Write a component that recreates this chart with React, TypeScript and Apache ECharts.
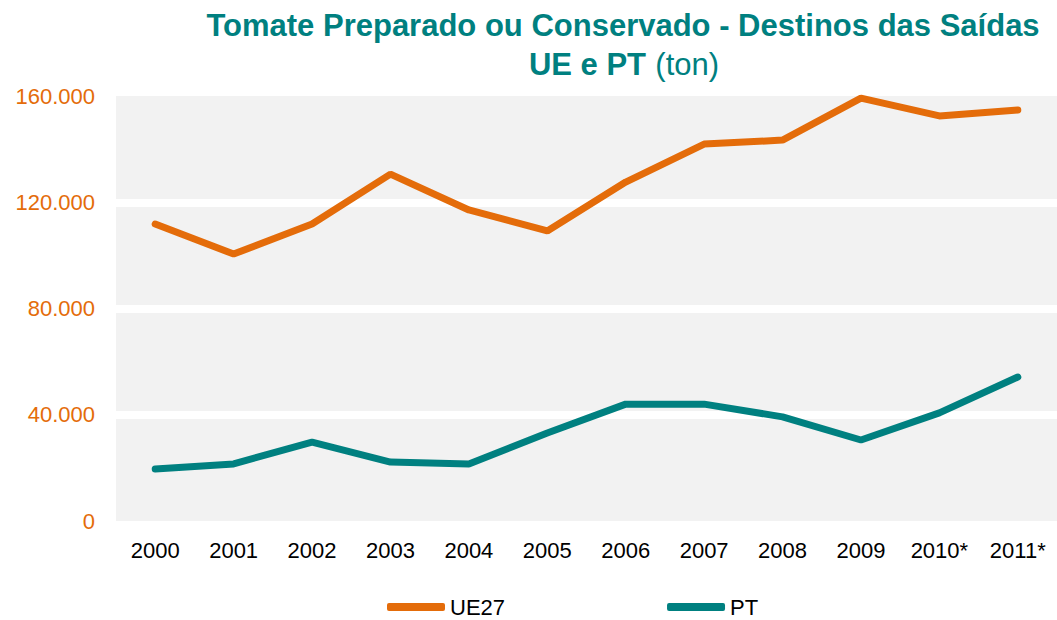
import React, { useEffect, useRef } from "react";
import * as echarts from "echarts";

const categories = ["2000", "2001", "2002", "2003", "2004", "2005", "2006", "2007", "2008", "2009", "2010*", "2011*"];
const ue27 = [111800, 100500, 111800, 130600, 117100, 109200, 127600, 141900, 143400, 159200, 152500, 154700];
const pt = [19600, 21500, 29700, 22200, 21500, 33100, 44000, 44000, 39200, 30500, 40700, 54200];
const seriesNames = ["UE27", "PT"];
const titleLine1 = "Tomate Preparado ou Conservado - Destinos das Saídas";
const titleLine2Bold = "UE e PT";
const titleLine2Normal = "(ton)";

const ORANGE = "#E46C0A";
const TEAL = "#008080";
const FONT = "'Liberation Sans', Arial, sans-serif";

function fmt(v: number): string {
  return String(Math.round(v)).replace(/\B(?=(\d{3})+(?!\d))/g, ".");
}

export default function App() {
  const ref = useRef<HTMLDivElement>(null);
  useEffect(() => {
    document.body.style.margin = "0";
    if (!ref.current) return;
    const chart = echarts.init(ref.current, null, { renderer: "svg" });
    chart.setOption({
      animation: false,
      backgroundColor: "#ffffff",
      textStyle: { fontFamily: FONT },
      graphic: [
        {
          type: "text",
          x: 623,
          y: 25,
          style: {
            text: titleLine1,
            fill: TEAL,
            font: `bold 31px ${FONT}`,
            align: "center",
            verticalAlign: "middle",
          },
        },
        {
          type: "text",
          x: 624,
          y: 64,
          style: {
            text: `{b|${titleLine2Bold}} {n|${titleLine2Normal}}`,
            fill: TEAL,
            align: "center",
            verticalAlign: "middle",
            rich: {
              b: { fontFamily: FONT, fontWeight: "bold", fontSize: 31, fill: TEAL },
              n: { fontFamily: FONT, fontWeight: "normal", fontSize: 31, fill: TEAL, padding: [0, 0, 0, 6] },
            },
          },
        },
      ],
      grid: {
        left: 116,
        right: 0,
        top: 96,
        bottom: 99,
        show: true,
        backgroundColor: "#F2F2F2",
        borderWidth: 0,
        containLabel: false,
      },
      legend: {
        left: 387,
        top: 596,
        padding: 0,
        itemGap: 162,
        itemWidth: 58,
        itemHeight: 8,
        icon: "roundRect",
        textStyle: { fontFamily: FONT, fontSize: 22, color: "#000" },
        data: seriesNames,
      },
      xAxis: {
        type: "category",
        data: categories,
        boundaryGap: true,
        axisLine: { show: false },
        axisTick: { show: false },
        axisLabel: { color: "#000", fontFamily: FONT, fontSize: 22, margin: 18 },
        splitLine: { show: false },
      },
      yAxis: {
        type: "value",
        min: 0,
        max: 160000,
        interval: 40000,
        axisLine: { show: false },
        axisTick: { show: false },
        axisLabel: {
          color: ORANGE,
          fontFamily: FONT,
          fontSize: 22,
          margin: 21,
          formatter: (v: number) => fmt(v),
        },
        splitLine: {
          show: true,
          showMinLine: false,
          showMaxLine: false,
          lineStyle: { color: "#ffffff", width: 8 },
        },
      },
      series: [
        {
          name: seriesNames[0],
          type: "line",
          data: ue27,
          symbol: "none",
          color: ORANGE,
          lineStyle: { color: ORANGE, width: 7, cap: "round" },
          itemStyle: { color: ORANGE },
        },
        {
          name: seriesNames[1],
          type: "line",
          data: pt,
          symbol: "none",
          color: TEAL,
          lineStyle: { color: TEAL, width: 7, cap: "round" },
          itemStyle: { color: TEAL },
        },
      ],
    });
    return () => chart.dispose();
  }, []);
  return <div ref={ref} style={{ width: 1057, height: 620 }} />;
}
